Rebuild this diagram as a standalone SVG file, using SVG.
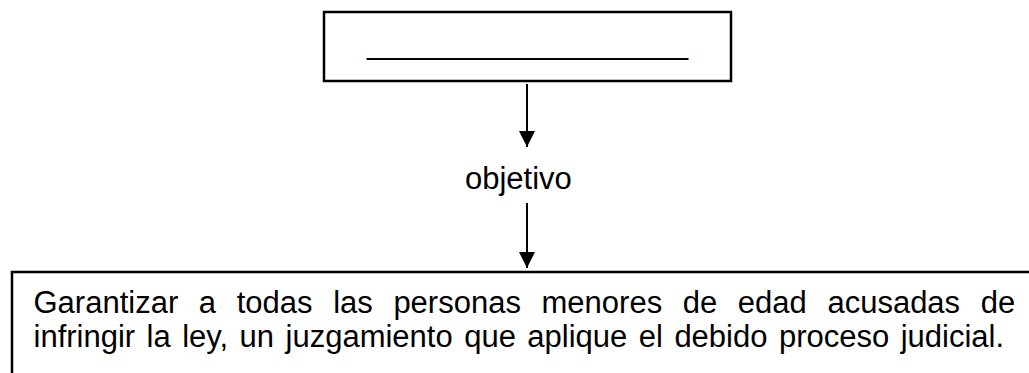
<svg xmlns="http://www.w3.org/2000/svg" width="1029" height="373" viewBox="0 0 1029 373">
  <style>
    .box { fill: #ffffff; stroke: #000000; stroke-width: 2.5; }
    .txt { font-family: "Liberation Sans", Arial, sans-serif; font-size: 31px; fill: #000000; }
    .conn { stroke: #000000; stroke-width: 2; fill: none; }
  </style>
  <defs>
    <marker id="arrow" viewBox="0 0 16 16" refX="16" refY="8" markerWidth="16" markerHeight="16" markerUnits="userSpaceOnUse" orient="auto">
      <path d="M0,0 L16,8 L0,16 Z" fill="#000000"/>
    </marker>
  </defs>
  <rect width="1029" height="373" fill="#ffffff"/>
  <g id="node-top">
    <rect class="box" x="324" y="12" width="407" height="69"/>
    <text class="txt" x="367" y="54" textLength="321" lengthAdjust="spacingAndGlyphs">__________________</text>
  </g>
  <g id="node-objetivo">
    <text class="txt" x="465" y="189">objetivo</text>
  </g>
  <g id="node-bottom">
    <path class="box" d="M12,375 L12,272 L1035,272"/>
    <text class="txt" x="33.5" y="313" word-spacing="12">Garantizar a todas las personas menores de edad acusadas de</text>
    <text class="txt" x="33.5" y="347" word-spacing="2.85">infringir la ley, un juzgamiento que aplique el debido proceso judicial.</text>
  </g>
  <g id="connectors">
    <line class="conn" x1="527" y1="84" x2="527" y2="147" marker-end="url(#arrow)"/>
    <line class="conn" x1="527" y1="203" x2="527" y2="268" marker-end="url(#arrow)"/>
  </g>
</svg>
